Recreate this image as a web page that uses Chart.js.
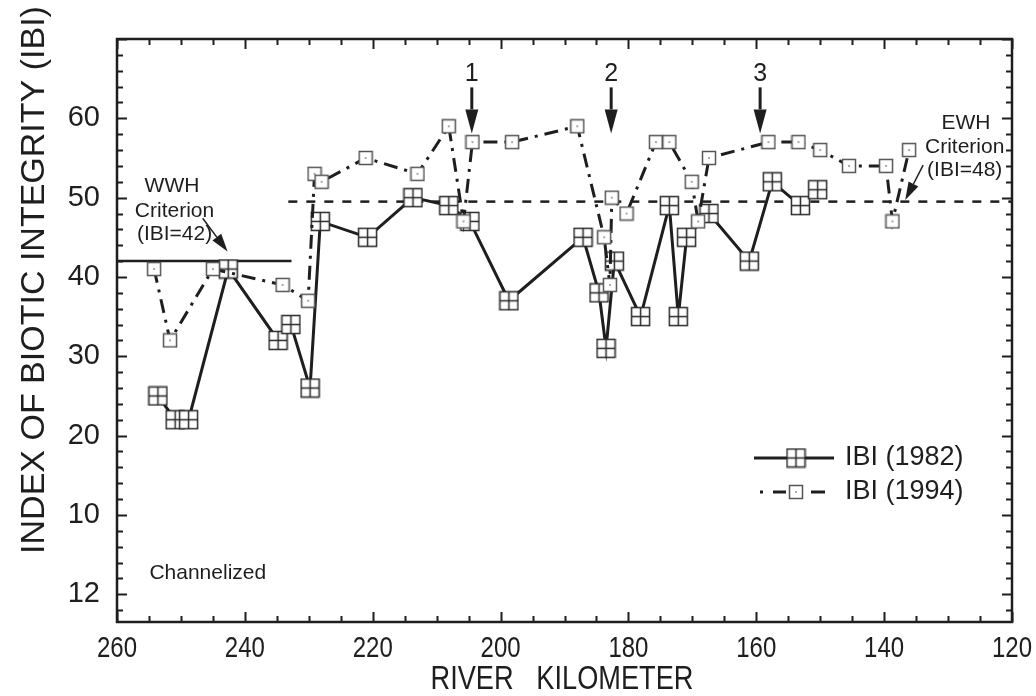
<!DOCTYPE html>
<html>
<head>
<meta charset="utf-8">
<script src="https://cdn.jsdelivr.net/npm/chart.js@4.4.1/dist/chart.umd.min.js"></script>
<style>
  html, body { margin: 0; padding: 0; background: #fff; }
  canvas { display: block; }
</style>
</head>
<body>
<canvas id="chart" width="1036" height="696"></canvas>
<script>
// 1982 survey: river kilometre and IBI score
const km1982 = [253.6, 250.9, 248.8, 242.6, 234.8, 232.8, 229.8, 228.2, 220.8, 213.7, 208.1, 204.8, 198.7,
                187.1, 184.6, 183.5, 182.2, 178.1, 173.6, 172.2, 170.9, 167.4, 161.1, 157.5, 153.1, 150.4];
const ibi1982 = [25, 22, 22, 41, 32, 34, 26, 47, 45, 50, 49, 47, 37,
                 45, 38, 31, 42, 35, 49, 35, 45, 48, 42, 52, 49, 51];

// 1994 survey
const km1994 = [254.2, 251.7, 245.0, 234.1, 230.1, 229.1, 228.0, 221.1, 213.0, 208.1, 205.8, 204.4, 198.2, 188.0,
                183.8, 182.9, 182.6, 180.3, 175.7, 173.6, 170.1, 169.1, 167.4, 158.1, 153.4, 150.0, 145.5, 139.7, 138.7, 136.1];
const ibi1994 = [41, 32, 41, 39, 37, 53, 52, 55, 53, 59, 47, 57, 57, 59,
                 45, 39, 50, 48, 57, 57, 52, 47, 55, 57, 57, 56, 54, 54, 47, 56];

// criterion lines
const wwhKm = [260, 232.7];
const wwhIbi = 42;
const ewhKm = [233.2, 120];
const ewhIbi = 49.5;

// numbered sites marked with arrows
const siteKm = [204.5, 182.7, 159.4];
const siteLabels = ['1', '2', '3'];

const xTicks = [260, 240, 220, 200, 180, 160, 140, 120];
const yTicks = [0, 10, 20, 30, 40, 50, 60];
const yTickLabels = ['12', '10', '20', '30', '40', '50', '60'];

const FONT = 'Liberation Sans, Arial, sans-serif';
const INK = '#1e1e1e';

function toPoints(xs, ys) {
    return xs.map((x, i) => ({ x: x, y: ys[i] }));
}

// square marker, either split in four (1982) or with a centre dot (1994)
function boxMarker(size, crossed) {
    const c = document.createElement('canvas');
    c.width = size + 2;
    c.height = size + 2;
    const g = c.getContext('2d');
    g.fillStyle = '#fff';
    g.fillRect(1, 1, size, size);
    g.strokeStyle = crossed ? '#2a2a2a' : '#555';
    g.lineWidth = 1.5;
    g.strokeRect(1.5, 1.5, size - 1, size - 1);
    const m = 1 + size / 2;
    if (crossed) {
        g.beginPath();
        g.moveTo(m, 1.5); g.lineTo(m, size + 0.5);
        g.moveTo(1.5, m); g.lineTo(size + 0.5, m);
        g.stroke();
    } else {
        g.fillStyle = '#666';
        g.fillRect(m - 0.75, m - 0.75, 1.5, 1.5);
    }
    return c;
}

const marker1982 = boxMarker(19, true);
const marker1994 = boxMarker(14, false);

function arrow(ctx, x1, y1, x2, y2, headLen, headW, lw) {
    const a = Math.atan2(y2 - y1, x2 - x1);
    const bx = x2 - headLen * Math.cos(a);
    const by = y2 - headLen * Math.sin(a);
    ctx.save();
    ctx.strokeStyle = INK;
    ctx.fillStyle = INK;
    ctx.lineWidth = lw;
    ctx.beginPath();
    ctx.moveTo(x1, y1);
    ctx.lineTo(bx, by);
    ctx.stroke();
    ctx.beginPath();
    ctx.moveTo(x2, y2);
    ctx.lineTo(bx + headW / 2 * Math.sin(a), by - headW / 2 * Math.cos(a));
    ctx.lineTo(bx - headW / 2 * Math.sin(a), by + headW / 2 * Math.cos(a));
    ctx.closePath();
    ctx.fill();
    ctx.restore();
}

// narrow = horizontal squeeze, the axis numbers in the figure use a condensed face
function text(ctx, str, x, y, size, align, narrow) {
    ctx.save();
    ctx.fillStyle = INK;
    ctx.font = size + 'px ' + FONT;
    ctx.textAlign = align || 'center';
    ctx.textBaseline = 'middle';
    ctx.translate(x, y);
    if (narrow) ctx.scale(narrow, 1);
    ctx.fillText(str, 0, 0);
    ctx.restore();
}

const decorations = {
    id: 'decorations',
    beforeDatasetsDraw(chart) {
        const { ctx, chartArea: a, scales: { x, y } } = chart;
        ctx.save();
        ctx.strokeStyle = INK;
        ctx.lineWidth = 2;
        ctx.beginPath();
        for (let v = 120; v <= 260; v += 5) {
            const px = Math.round(x.getPixelForValue(v)) + 0.5;
            const len = v % 20 === 0 ? 10 : 6;
            ctx.moveTo(px, a.bottom); ctx.lineTo(px, a.bottom - len);
            ctx.moveTo(px, a.top); ctx.lineTo(px, a.top + len);
        }
        for (let v = -2; v <= 70; v += 2) {
            const py = Math.round(y.getPixelForValue(v)) + 0.5;
            const len = v % 10 === 0 ? 10 : 6;
            ctx.moveTo(a.left, py); ctx.lineTo(a.left + len, py);
            ctx.moveTo(a.right, py); ctx.lineTo(a.right - len, py);
        }
        ctx.stroke();
        ctx.lineWidth = 2.5;
        ctx.strokeRect(a.left, a.top, a.right - a.left, a.bottom - a.top);
        ctx.restore();
    },
    afterDatasetsDraw(chart) {
        const { ctx, scales: { x, y } } = chart;
        const px = v => x.getPixelForValue(v);
        const py = v => y.getPixelForValue(v);

        // site arrows 1, 2, 3
        siteKm.forEach((k, i) => {
            text(ctx, siteLabels[i], px(k), py(65.6), 25);
            arrow(ctx, px(k), py(63.9), px(k), py(58.1), 24, 13, 3);
        });

        // WWH criterion note
        text(ctx, 'WWH', px(251.4), py(51.4), 21);
        text(ctx, 'Criterion', px(251.0), py(48.3), 21);
        text(ctx, '(IBI=42)', px(251.0), py(45.4), 21);
        arrow(ctx, px(246.6), py(47.4), px(242.7), py(43.2), 18, 11, 1.5);

        // EWH criterion note
        text(ctx, 'EWH', px(127.2), py(59.4), 21);
        text(ctx, 'Criterion', px(127.4), py(56.4), 21);
        text(ctx, '(IBI=48)', px(127.4), py(53.5), 21);
        arrow(ctx, px(133.9), py(54.1), px(136.7), py(49.7), 18, 11, 1.5);

        text(ctx, 'Channelized', px(245.8), py(2.6), 21);

        // legend
        ctx.save();
        ctx.strokeStyle = INK;
        ctx.lineWidth = 3;
        ctx.beginPath();
        ctx.moveTo(754, 458); ctx.lineTo(834, 458);
        ctx.moveTo(760, 492); ctx.lineTo(763, 492);
        ctx.moveTo(773, 492); ctx.lineTo(786, 492);
        ctx.moveTo(811, 492); ctx.lineTo(825, 492);
        ctx.stroke();
        ctx.drawImage(marker1982, 796 - marker1982.width / 2, 458 - marker1982.height / 2);
        ctx.drawImage(marker1994, 796 - marker1994.width / 2, 492 - marker1994.height / 2);
        ctx.restore();
        text(ctx, 'IBI (1982)', 845, 458, 27, 'left');
        text(ctx, 'IBI (1994)', 845, 492, 27, 'left');
    },
    afterDraw(chart) {
        const { ctx, chartArea: a, scales: { x } } = chart;
        // x numbers, condensed like the original
        xTicks.forEach(v => text(ctx, String(v), x.getPixelForValue(v), a.bottom + 27, 30, 'center', 0.8));
        text(ctx, 'RIVER   KILOMETER', 562, 680, 34, 'center', 0.8);

        ctx.save();
        ctx.translate(35, 280);
        ctx.rotate(-Math.PI / 2);
        text(ctx, 'INDEX OF BIOTIC INTEGRITY (IBI)', 0, 0, 34);
        ctx.restore();
    }
};

new Chart(document.getElementById('chart'), {
    type: 'line',
    data: {
        datasets: [
            {
                label: 'IBI (1994)',
                data: toPoints(km1994, ibi1994),
                borderColor: INK,
                borderWidth: 3,
                borderDash: [14, 7, 3, 7],
                pointStyle: marker1994,
                pointRadius: 7,
                tension: 0,
                order: 0
            },
            {
                label: 'IBI (1982)',
                data: toPoints(km1982, ibi1982),
                borderColor: INK,
                borderWidth: 3,
                pointStyle: marker1982,
                pointRadius: 9,
                tension: 0,
                order: 1
            },
            {
                label: 'WWH',
                data: toPoints(wwhKm, [wwhIbi, wwhIbi]),
                borderColor: INK,
                borderWidth: 2.5,
                pointRadius: 0,
                order: 2
            },
            {
                label: 'EWH',
                data: toPoints(ewhKm, [ewhIbi, ewhIbi]),
                borderColor: INK,
                borderWidth: 2.5,
                borderDash: [9, 9],
                pointRadius: 0,
                order: 2
            }
        ]
    },
    options: {
        responsive: false,
        animation: false,
        devicePixelRatio: 1,
        layout: { padding: { top: 39, right: 24, left: 0, bottom: 0 } },
        plugins: { legend: { display: false }, tooltip: { enabled: false } },
        scales: {
            x: {
                type: 'linear',
                reverse: true,
                min: 120,
                max: 260,
                afterBuildTicks: s => { s.ticks = xTicks.map(v => ({ value: v })); },
                afterFit: s => { s.height = 74; },
                grid: { display: false, drawTicks: false },
                border: { display: false },
                ticks: { display: false }
            },
            y: {
                type: 'linear',
                min: -3.5,
                max: 70,
                afterBuildTicks: s => { s.ticks = yTicks.map(v => ({ value: v })); },
                afterFit: s => { s.width = 117; },
                grid: { display: false, drawTicks: false },
                border: { display: false },
                ticks: {
                    font: { family: FONT, size: 29 },
                    color: INK,
                    padding: 17,
                    autoSkip: false,
                    callback: (v, i) => yTickLabels[i]
                }
            }
        }
    },
    plugins: [decorations]
});
</script>
</body>
</html>
